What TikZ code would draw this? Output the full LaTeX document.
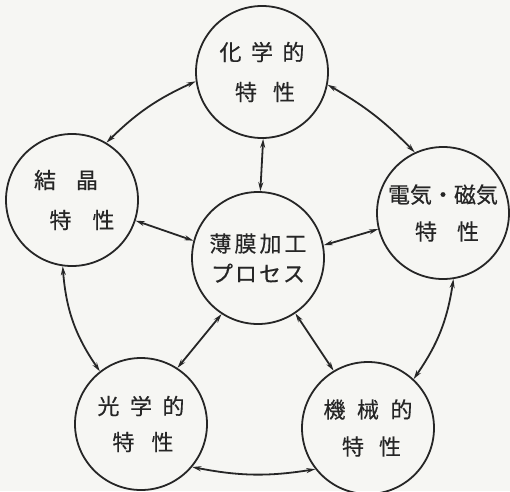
\documentclass[tikz,border=0pt]{standalone}
\usepackage{fontspec}
\setmainfont{Noto Sans CJK JP}[UprightFeatures={FakeBold=0.4}]
\usetikzlibrary{arrows.meta}
\definecolor{bg}{RGB}{246,246,243}
\definecolor{ink}{RGB}{38,38,38}
\tikzset{
  prop/.style={circle, draw=ink, line width=1.8pt, minimum size=132pt, inner sep=0pt,
    align=center, text=ink, font=\fontsize{22}{38}\selectfont},
  link/.style={{Stealth[length=9pt,width=5pt]}-{Stealth[length=9pt,width=5pt]},
    line width=1.8pt, draw=ink},
}
\begin{document}
\begin{tikzpicture}[x=1pt,y=1pt]
\fill[bg] (0,0) rectangle (510,491);
\useasboundingbox (0,0) rectangle (510,491);

\node[prop, font=\fontsize{22}{40}\selectfont] (T) at (262,419)
  {化\hspace{9.5pt}学\hspace{9.5pt}的\\\hspace*{6pt}特\hspace{16pt}性};
\node[prop, font=\fontsize{22}{40}\selectfont] (L) at (72,291)
  {結\hspace{20pt}晶\hspace*{12pt}\\\hspace*{20pt}特\hspace{21pt}性};
\node[prop, font=\fontsize{22}{37}\selectfont] (R) at (443,278)
  {電気・磁気\\\hspace*{8pt}特\hspace{20pt}性};
\node[prop, font=\fontsize{22}{30}\selectfont] (C) at (258,233)
  {薄\hspace{3pt}膜\hspace{3pt}加\hspace{3pt}工\\プ\hspace{2pt}ロ\hspace{2pt}セ\hspace{2pt}ス};
\node[prop, font=\fontsize{22}{36}\selectfont] (BL) at (141,67)
  {光\hspace{10.5pt}学\hspace{10.5pt}的\\\hspace*{4pt}特\hspace{17pt}性};
\node[prop, font=\fontsize{22}{37}\selectfont] (BR) at (368,63)
  {機\hspace{11.5pt}械\hspace{11.5pt}的\\\hspace*{7pt}特\hspace{15pt}性};

\draw[link] (T.188) to[bend right=10] (L.59);
\draw[link] (T.349) to[bend left=8] (R.115);
\draw[link] (T.271) -- (C.88);
\draw[link] (L.342) -- (C.165);
\draw[link] (R.194) -- (C.11);
\draw[link] (L.262) to[bend right=15] (BL.128);
\draw[link] (R.279) to[bend left=13] (BR.47);
\draw[link] (C.237) -- (BL.57);
\draw[link] (C.304) -- (BR.121);
\draw[link] (BL.320) to[bend right=10] (BR.218);
\end{tikzpicture}
\end{document}
